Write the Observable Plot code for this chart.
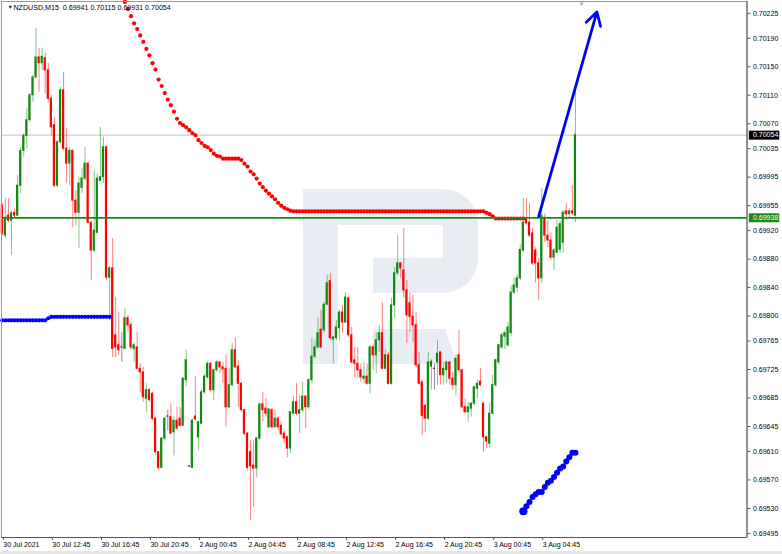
<!DOCTYPE html>
<html><head><meta charset="utf-8">
<script src="https://cdn.jsdelivr.net/npm/d3@7"></script>
<script src="https://cdn.jsdelivr.net/npm/@observablehq/plot@0.6"></script>
<style>
html,body{margin:0;padding:0;background:#fff;}
#chart{position:relative;width:782px;height:554px;overflow:hidden;}
#status{position:absolute;left:0;bottom:0;width:782px;height:3px;background:#e6e6e6;}
</style></head><body><div id="chart"><div id="status"></div></div>
<script>
// ---------- data ----------
const symbol = "NZDUSD,M15";
const tickBars = [0, 16, 32, 48, 64, 80, 96, 112, 128, 144, 160, 176];
const tickLabels = ["30 Jul 2021", "30 Jul 12:45", "30 Jul 16:45", "30 Jul 20:45", "2 Aug 00:45", "2 Aug 04:45",
  "2 Aug 08:45", "2 Aug 12:45", "2 Aug 16:45", "2 Aug 20:45", "3 Aug 00:45", "3 Aug 04:45"];
const yTicks = [0.70225, 0.70190, 0.70150, 0.70110, 0.70070, 0.70035, 0.69995, 0.69955, 0.69920, 0.69880,
  0.69840, 0.69800, 0.69765, 0.69725, 0.69685, 0.69645, 0.69610, 0.69570, 0.69530, 0.69495];

const opens = [
0.69955,0.69913,0.69941,0.69934,0.69945,0.69941,0.69983,0.70032,0.70053,0.70075,
0.70110,0.70135,0.70163,0.70155,0.70162,0.70145,0.70105,0.70068,0.69983,0.70044,
0.70117,0.70035,0.70014,0.70032,0.69962,0.69945,0.69980,0.69993,0.70014,0.69931,
0.69892,0.69917,0.69990,0.69995,0.70037,0.69854,0.69867,0.69773,0.69759,0.69756,
0.69754,0.69797,0.69787,0.69754,0.69756,0.69726,0.69721,0.69684,0.69696,0.69691,
0.69656,0.69609,0.69587,0.69628,0.69659,0.69658,0.69637,0.69653,0.69656,0.69646,
0.69710,0.69589,0.69587,0.69659,0.69630,0.69649,0.69693,0.69714,0.69733,0.69696,
0.69724,0.69735,0.69728,0.69726,0.69672,0.69703,0.69752,0.69729,0.69705,0.69668,
0.69635,0.69609,0.69590,0.69586,0.69628,0.69676,0.69670,0.69644,0.69668,0.69644,
0.69656,0.69646,0.69635,0.69630,0.69614,0.69663,0.69679,0.69663,0.69668,0.69687,
0.69672,0.69710,0.69743,0.69756,0.69781,0.69780,0.69816,0.69849,0.69767,0.69769,
0.69783,0.69805,0.69791,0.69825,0.69773,0.69738,0.69733,0.69724,0.69712,0.69715,
0.69705,0.69756,0.69745,0.69766,0.69776,0.69726,0.69745,0.69705,0.69815,0.69860,
0.69874,0.69864,0.69836,0.69818,0.69799,0.69787,0.69731,0.69707,0.69674,0.69656,
0.69729,0.69726,0.69735,0.69749,0.69717,0.69724,0.69735,0.69712,0.69703,0.69745,
0.69724,0.69672,0.69665,0.69670,0.69677,0.69698,0.69708,0.69677,0.69630,0.69621,
0.69663,0.69703,0.69735,0.69756,0.69771,0.69759,0.69776,0.69833,0.69840,0.69853,
0.69892,0.69937,0.69931,0.69916,0.69892,0.69874,0.69853,0.69938,0.69913,0.69906,
0.69882,0.69889,0.69893,0.69903,0.69947,0.69943,0.69947,0.69941];
const highs = [
0.69958,0.69966,0.69965,0.69948,0.69950,0.69997,0.70037,0.70056,0.70091,0.70112,
0.70138,0.70204,0.70176,0.70176,0.70169,0.70155,0.70110,0.70079,0.70046,0.70121,
0.70142,0.70063,0.70037,0.70032,0.69976,0.69995,0.70007,0.70037,0.70016,0.69934,
0.70004,0.70000,0.70065,0.70051,0.70038,0.69870,0.69909,0.69826,0.69805,0.69777,
0.69811,0.69801,0.69791,0.69762,0.69777,0.69733,0.69728,0.69705,0.69698,0.69693,
0.69658,0.69610,0.69630,0.69658,0.69668,0.69677,0.69658,0.69672,0.69672,0.69714,
0.69752,0.69590,0.69656,0.69715,0.69652,0.69696,0.69718,0.69736,0.69735,0.69726,
0.69738,0.69736,0.69735,0.69745,0.69726,0.69762,0.69769,0.69738,0.69707,0.69669,
0.69637,0.69625,0.69625,0.69630,0.69677,0.69693,0.69684,0.69670,0.69670,0.69668,
0.69659,0.69651,0.69639,0.69631,0.69666,0.69687,0.69705,0.69688,0.69707,0.69688,
0.69712,0.69769,0.69766,0.69798,0.69808,0.69819,0.69857,0.69860,0.69771,0.69794,
0.69808,0.69815,0.69833,0.69827,0.69784,0.69756,0.69756,0.69733,0.69735,0.69733,
0.69759,0.69759,0.69776,0.69787,0.69819,0.69752,0.69749,0.69825,0.69868,0.69913,
0.69875,0.69923,0.69850,0.69832,0.69829,0.69805,0.69749,0.69710,0.69676,0.69749,
0.69739,0.69733,0.69766,0.69750,0.69735,0.69736,0.69736,0.69721,0.69745,0.69780,
0.69725,0.69684,0.69679,0.69679,0.69701,0.69710,0.69726,0.69679,0.69632,0.69677,
0.69717,0.69740,0.69760,0.69777,0.69780,0.69791,0.69842,0.69853,0.69858,0.69900,
0.69965,0.69965,0.69958,0.69923,0.69896,0.69881,0.69979,0.69944,0.69934,0.69917,
0.69895,0.69934,0.69933,0.69948,0.69958,0.69951,0.69983,0.70115];
const lows = [
0.69913,0.69909,0.69931,0.69885,0.69937,0.69940,0.69972,0.70023,0.70035,0.70072,
0.70100,0.70133,0.70114,0.70145,0.70112,0.70100,0.70053,0.69980,0.69980,0.70041,
0.70032,0.69986,0.69983,0.69924,0.69927,0.69895,0.69972,0.69990,0.69929,0.69850,
0.69889,0.69915,0.69989,0.69986,0.69850,0.69794,0.69742,0.69742,0.69745,0.69735,
0.69753,0.69776,0.69752,0.69735,0.69724,0.69693,0.69679,0.69665,0.69679,0.69653,
0.69604,0.69583,0.69586,0.69625,0.69639,0.69634,0.69604,0.69639,0.69644,0.69645,
0.69701,0.69587,0.69586,0.69653,0.69611,0.69648,0.69690,0.69711,0.69693,0.69682,
0.69721,0.69719,0.69705,0.69644,0.69670,0.69700,0.69726,0.69672,0.69665,0.69632,
0.69583,0.69513,0.69531,0.69573,0.69625,0.69652,0.69658,0.69642,0.69641,0.69642,
0.69639,0.69632,0.69621,0.69601,0.69607,0.69662,0.69660,0.69635,0.69665,0.69642,
0.69669,0.69705,0.69740,0.69754,0.69754,0.69777,0.69815,0.69766,0.69733,0.69766,
0.69766,0.69776,0.69790,0.69770,0.69733,0.69714,0.69712,0.69707,0.69705,0.69703,
0.69691,0.69724,0.69719,0.69749,0.69724,0.69724,0.69703,0.69703,0.69797,0.69857,
0.69853,0.69825,0.69762,0.69777,0.69763,0.69728,0.69703,0.69632,0.69637,0.69653,
0.69696,0.69696,0.69703,0.69703,0.69703,0.69705,0.69703,0.69696,0.69688,0.69721,
0.69670,0.69663,0.69651,0.69658,0.69674,0.69684,0.69701,0.69609,0.69614,0.69615,
0.69662,0.69700,0.69731,0.69754,0.69753,0.69756,0.69771,0.69830,0.69833,0.69850,
0.69889,0.69927,0.69910,0.69871,0.69846,0.69822,0.69846,0.69903,0.69896,0.69878,
0.69864,0.69888,0.69888,0.69888,0.69934,0.69936,0.69941,0.69931];
const closes = [
0.69916,0.69938,0.69934,0.69944,0.69941,0.69983,0.70032,0.70053,0.70075,0.70110,
0.70135,0.70163,0.70155,0.70164,0.70145,0.70105,0.70065,0.69983,0.70044,0.70117,
0.70035,0.70014,0.70032,0.69962,0.69945,0.69986,0.69993,0.70014,0.69931,0.69892,
0.69920,0.69993,0.69995,0.70037,0.69854,0.69867,0.69754,0.69756,0.69752,0.69756,
0.69797,0.69787,0.69756,0.69759,0.69726,0.69721,0.69686,0.69696,0.69682,0.69656,
0.69609,0.69587,0.69628,0.69656,0.69659,0.69635,0.69653,0.69642,0.69646,0.69712,
0.69738,0.69589,0.69653,0.69655,0.69651,0.69693,0.69715,0.69733,0.69696,0.69724,
0.69735,0.69728,0.69725,0.69672,0.69703,0.69752,0.69728,0.69705,0.69668,0.69635,
0.69587,0.69589,0.69586,0.69628,0.69676,0.69668,0.69663,0.69669,0.69644,0.69656,
0.69644,0.69634,0.69628,0.69614,0.69665,0.69679,0.69663,0.69668,0.69687,0.69672,
0.69710,0.69743,0.69756,0.69776,0.69756,0.69816,0.69846,0.69769,0.69770,0.69784,
0.69805,0.69791,0.69826,0.69773,0.69735,0.69733,0.69724,0.69714,0.69715,0.69705,
0.69756,0.69745,0.69766,0.69776,0.69726,0.69745,0.69705,0.69815,0.69860,0.69874,
0.69867,0.69836,0.69801,0.69799,0.69787,0.69731,0.69705,0.69660,0.69656,0.69735,
0.69736,0.69726,0.69747,0.69717,0.69726,0.69735,0.69712,0.69703,0.69740,0.69724,
0.69672,0.69665,0.69672,0.69677,0.69700,0.69705,0.69703,0.69630,0.69624,0.69663,
0.69703,0.69738,0.69759,0.69773,0.69776,0.69784,0.69833,0.69843,0.69853,0.69893,
0.69931,0.69930,0.69913,0.69874,0.69874,0.69853,0.69941,0.69913,0.69906,0.69882,
0.69892,0.69924,0.69929,0.69945,0.69943,0.69947,0.69944,0.70054];

// red trailing-stop dots (first bar 40)
const redStopStart = 40;
const redStops = [
0.70241,0.70231,0.70221,0.70211,0.70203,0.70194,0.70185,0.70175,0.70166,0.70155,
0.70146,0.70132,0.70123,0.70113,0.70104,0.70096,0.70087,0.70077,0.70071,0.70068,
0.70065,0.70061,0.70057,0.70054,0.70047,0.70043,0.70039,0.70037,0.70033,0.70028,
0.70025,0.70024,0.70021,0.70021,0.70021,0.70021,0.70021,0.70021,0.70019,0.70014,
0.70010,0.70003,0.69999,0.69993,0.69986,0.69981,0.69976,0.69972,0.69968,0.69964,
0.69959,0.69955,0.69952,0.69950,0.69948,0.69947,0.69947,0.69947,0.69947,0.69947,
0.69947,0.69947,0.69947,0.69947,0.69947,0.69947,0.69947,0.69947,0.69947,0.69947,
0.69947,0.69947,0.69947,0.69947,0.69947,0.69947,0.69947,0.69947,0.69947,0.69947,
0.69947,0.69947,0.69947,0.69947,0.69947,0.69947,0.69947,0.69947,0.69947,0.69947,
0.69947,0.69947,0.69947,0.69947,0.69947,0.69947,0.69947,0.69947,0.69947,0.69947,
0.69947,0.69947,0.69947,0.69947,0.69947,0.69947,0.69947,0.69947,0.69947,0.69947,
0.69947,0.69947,0.69947,0.69947,0.69947,0.69947,0.69947,0.69947,0.69945,0.69943,
0.69940,0.69937,0.69937,0.69937,0.69937,0.69937,0.69937,0.69937,0.69937,0.69937,
0.69937];
// blue trailing-stop dots, left block (first bar 0)
const blueStopsLeftStart = 0;
const blueStopsLeft = [
0.69794,0.69794,0.69794,0.69794,0.69794,0.69794,0.69794,0.69794,0.69794,0.69794,
0.69794,0.69794,0.69794,0.69794,0.69794,0.69797,0.69799,0.69799,0.69799,0.69799,
0.69799,0.69799,0.69799,0.69799,0.69799,0.69799,0.69799,0.69799,0.69799,0.69799,
0.69799,0.69799,0.69799,0.69799,0.69799,0.69799];
// blue trailing-stop dots, right block (first bar 170)
const blueStopsRightStart = 170;
const blueStopsRight = [
0.69526,0.69533,0.69539,0.69546,0.69550,0.69553,0.69553,0.69560,0.69566,0.69569,
0.69574,0.69580,0.69586,0.69589,0.69596,0.69602,0.69608,0.69608];
const levelPrice = 0.69938;              // green horizontal line
const arrowFrom = {bar: 175, price: 0.69940};
const arrowTo = {bar: 194, price: 0.70227};

// ---------- view ----------
const xDomain = [-0.26, 242.97];
const yDomain = [0.694892, 0.702416];
const UP = "#0f8a0f", DOWN = "#ff0000", FLAT = "#222222";
const fmt = d3.format(".5f");
const LOGO_PATH = "M303 189 H443 A35 35 0 0 1 478 224 V258 A35 35 0 0 1 443 293 H373 V258 H443 V225 H338 V364 H303 Z M373 329 H445 L457 364 H373 Z";

const bars = opens.map((o, i) => {
  const c = closes[i];
  const col = c > o ? UP : c < o ? DOWN : FLAT;
  return {i, o, h: highs[i], l: lows[i], c, col};
});
const last = bars[bars.length - 1];
const redDots = redStops.map((v, k) => ({i: redStopStart + k, v}));
const blueLeft = blueStopsLeft.map((v, k) => ({i: blueStopsLeftStart + k, v}));
const blueRight = blueStopsRight.map((v, k) => ({i: blueStopsRightStart + k, v}));
const header = `${symbol}  ${fmt(last.o)} ${fmt(last.h)} ${fmt(last.l)} ${fmt(last.c)}`;

const chart = Plot.plot({
  width: 782, height: 554,
  marginLeft: 1, marginRight: 35.5, marginTop: 1, marginBottom: 17,
  style: {fontFamily: "'Liberation Sans', Arial, sans-serif", fontSize: "7px", color: "#000", background: "#fff"},
  x: {domain: xDomain, axis: null, label: null},
  y: {domain: yDomain, axis: null, label: null},
  color: {type: "identity"},
  marks: [
    Plot.ruleY([last.c], {stroke: "#c4c4c4", strokeWidth: 1}),
    Plot.ruleX(bars, {x: "i", y1: "l", y2: "h", stroke: "col", strokeOpacity: 0.5, strokeWidth: 1}),
    Plot.rect(bars, {x1: d => d.i - 0.36, x2: d => d.i + 0.36, y1: "o", y2: "c", fill: "col", insetTop: -0.5, insetBottom: -0.5}),
    Plot.dot(redDots, {x: "i", y: "v", r: 2.1, fill: "#ff0000", stroke: "none"}),
    Plot.dot(blueLeft, {x: "i", y: "v", r: 2.1, fill: "#0000ff", stroke: "none"}),
    Plot.dot(blueRight, {x: "i", y: "v", r: (d, k) => k === 0 ? 3.9 : 2.1, fill: "#0000ff", stroke: "none"}),
    Plot.ruleY([levelPrice], {stroke: "#1a8a1a", strokeWidth: 1.7}),
    Plot.arrow([{a: arrowFrom, b: arrowTo}], {x1: d => d.a.bar, y1: d => d.a.price, x2: d => d.b.bar, y2: d => d.b.price,
      stroke: "#0000ff", strokeWidth: 2.8, headLength: 8}),
    Plot.frame({stroke: "#9a9a9a"}),
    Plot.ruleX([xDomain[1]], {stroke: "#555"}),
    Plot.ruleY([yDomain[0]], {stroke: "#555"}),
    Plot.axisX(tickBars, {anchor: "bottom", label: null, tickSize: 3, tickPadding: 2, textAnchor: "start", dx: 1,
      tickFormat: d => tickLabels[tickBars.indexOf(d)], stroke: "#555", fill: "#000"}),
    Plot.axisY(yTicks, {anchor: "right", label: null, tickSize: 3, tickPadding: 3, tickFormat: fmt, stroke: "#555", fill: "#000"}),
    // price label boxes on the axis
    Plot.ruleY([last.c], {x1: xDomain[1] + 0.75, x2: xDomain[1] + 10.7, stroke: "#000", strokeWidth: 9}),
    Plot.text([last.c], {x: xDomain[1], y: d => d, text: d => fmt(d), textAnchor: "start", dx: 6, fill: "#fff"}),
    Plot.ruleY([levelPrice], {x1: xDomain[1] + 0.75, x2: xDomain[1] + 10.7, stroke: "#1a8a1a", strokeWidth: 9}),
    Plot.text([levelPrice], {x: xDomain[1], y: d => d, text: d => fmt(d), textAnchor: "start", dx: 6, fill: "#fff"}),
    // header and markers
    Plot.text(["\u25BC"], {text: d => d, frameAnchor: "top-left", dx: 6, dy: 3.5, lineAnchor: "top", fontSize: 5.5, fill: "#222"}),
    Plot.text([header], {text: d => d, frameAnchor: "top-left", dx: 12, dy: 3, textAnchor: "start", lineAnchor: "top", fontSize: 7.1, fill: "#000"}),
    Plot.text([bars.length + 1], {x: d => d, text: () => "\u25BC", frameAnchor: "top", dy: 0.5, lineAnchor: "top", fontSize: 6, fill: "#a8a8a8"})
  ]
});

// faint broker watermark behind the marks
const NS = "http://www.w3.org/2000/svg";
const logo = document.createElementNS(NS, "path");
logo.setAttribute("d", LOGO_PATH);
logo.setAttribute("fill", "#e8edf4");
const firstMark = Array.from(chart.children).find(n => n.tagName.toLowerCase() !== "style");
chart.insertBefore(logo, firstMark);

const holder = document.getElementById("chart");
holder.insertBefore(chart, holder.firstChild);
</script>
</body></html>
